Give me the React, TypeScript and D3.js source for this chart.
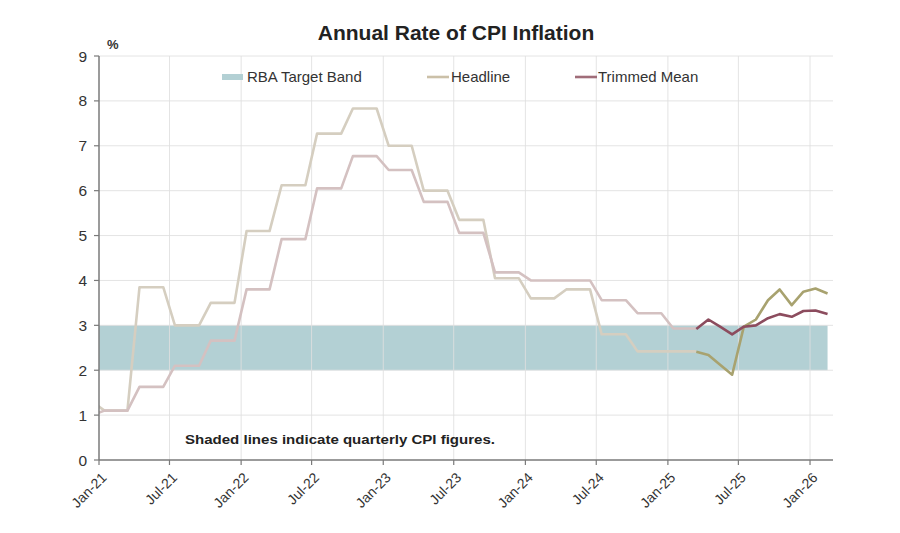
import React from 'react';
import * as d3 from 'd3';

// Quarterly CPI (year-ended %), quarter end labels
const quarters = [
  'Mar-21', 'Jun-21', 'Sep-21', 'Dec-21', 'Mar-22', 'Jun-22', 'Sep-22', 'Dec-22',
  'Mar-23', 'Jun-23', 'Sep-23', 'Dec-23', 'Mar-24', 'Jun-24', 'Sep-24', 'Dec-24', 'Mar-25',
];
const headlineQuarterly = [1.1, 3.85, 3.0, 3.5, 5.1, 6.12, 7.27, 7.83, 7.0, 6.0, 5.35, 4.05, 3.6, 3.8, 2.8, 2.42, 2.42];
const trimmedQuarterly = [1.1, 1.63, 2.1, 2.66, 3.8, 4.92, 6.05, 6.77, 6.46, 5.75, 5.06, 4.18, 4.0, 4.0, 3.56, 3.27, 2.93];
// value of the previous quarter (Dec-20), only the tail shows at the axis
const headlineDec20 = 1.3;
const trimmedDec20 = 1.0;

// Monthly CPI indicator
const months = ['Mar-25', 'Apr-25', 'May-25', 'Jun-25', 'Jul-25', 'Aug-25', 'Sep-25', 'Oct-25', 'Nov-25', 'Dec-25', 'Jan-26', 'Feb-26'];
const headlineMonthly = [2.41, 2.34, 2.12, 1.9, 2.97, 3.13, 3.56, 3.8, 3.45, 3.75, 3.82, 3.71];
const trimmedMonthly = [2.92, 3.13, 2.97, 2.8, 2.97, 3.0, 3.16, 3.25, 3.19, 3.32, 3.33, 3.25];

const targetBand = [2, 3];
const xTickLabels = ['Jan-21', 'Jul-21', 'Jan-22', 'Jul-22', 'Jan-23', 'Jul-23', 'Jan-24', 'Jul-24', 'Jan-25', 'Jul-25', 'Jan-26'];
const yTicks = [0, 1, 2, 3, 4, 5, 6, 7, 8, 9];

const parseMonth = d3.timeParse('%b-%y');
const mid = (label: string) => d3.timeDay.offset(parseMonth(label) as Date, 14);

interface Pt { date: Date; value: number; }

// each quarter holds its value for its three months
const expandQuarterly = (vals: number[], prev: number): Pt[] => {
  const out: Pt[] = [{ date: d3.timeDay.offset(parseMonth('Dec-20') as Date, 14), value: prev }];
  quarters.forEach((q, i) => {
    const end = parseMonth(q) as Date;
    for (let k = 2; k >= 0; k--) {
      out.push({ date: d3.timeDay.offset(d3.timeMonth.offset(end, -k), 14), value: vals[i] });
    }
  });
  return out;
};

const monthlySeries = (vals: number[]): Pt[] => months.map((m, i) => ({ date: mid(m), value: vals[i] }));

const COLORS = {
  band: '#b3d0d4',
  grid: '#e0e0e0',
  axis: '#7a7a7a',
  headlineShade: '#d5cec0',
  trimmedShade: '#d4c1c1',
  headline: '#a8a26f',
  trimmed: '#8c4c5e',
  legendHeadline: '#cbc0a8',
  legendTrimmed: '#a06d79',
};

export default function App() {
  const width = 900;
  const height = 533;
  const left = 99, right = 833, top = 56, bottom = 460;

  const x = d3.scaleTime()
    .domain([parseMonth('Jan-21') as Date, parseMonth('Mar-26') as Date])
    .range([left, right]);
  const y = d3.scaleLinear().domain([0, 9]).range([bottom, top]);

  const line = d3.line<Pt>().x(d => x(d.date)).y(d => y(d.value));

  const hShade = expandQuarterly(headlineQuarterly, headlineDec20);
  const tShade = expandQuarterly(trimmedQuarterly, trimmedDec20);
  const hMonthly = monthlySeries(headlineMonthly);
  const tMonthly = monthlySeries(trimmedMonthly);

  const font = '"Liberation Sans", Arial, sans-serif';
  const bandEnd = x(mid(months[months.length - 1]));

  return (
    <svg width={width} height={height} style={{ position: 'absolute', left: 0, top: 0, background: '#fff' }} fontFamily={font}>
      <defs>
        <clipPath id="plot">
          <rect x={left} y={top - 5} width={right - left} height={bottom - top + 5} />
        </clipPath>
      </defs>

      <text x={456} y={40} textAnchor="middle" fontSize={21} fontWeight="bold" fill="#222">
        Annual Rate of CPI Inflation
      </text>

      {/* target band */}
      <rect x={left} y={y(targetBand[1])} width={bandEnd - left} height={y(targetBand[0]) - y(targetBand[1])} fill={COLORS.band} />

      {/* grid */}
      {yTicks.filter(t => t > 0).map(t => (
        <line key={'gy' + t} x1={left} x2={right} y1={y(t)} y2={y(t)} stroke={COLORS.grid} strokeWidth={1} opacity={0.85} />
      ))}
      {xTickLabels.slice(1).map(l => (
        <line key={'gx' + l} x1={x(parseMonth(l) as Date)} x2={x(parseMonth(l) as Date)} y1={top} y2={bottom} stroke={COLORS.grid} strokeWidth={1} opacity={0.85} />
      ))}

      {/* quarterly shaded lines, then monthly lines */}
      <g clipPath="url(#plot)" fill="none" strokeWidth={2.6} strokeLinejoin="round">
        <path d={line(hShade) || ''} stroke={COLORS.headlineShade} />
        <path d={line(tShade) || ''} stroke={COLORS.trimmedShade} />
        <path d={line(hMonthly) || ''} stroke={COLORS.headline} />
        <path d={line(tMonthly) || ''} stroke={COLORS.trimmed} />
      </g>

      {/* y axis */}
      <line x1={left} x2={left} y1={top} y2={bottom} stroke={COLORS.axis} strokeWidth={1.5} />
      {yTicks.map(t => (
        <g key={'yt' + t}>
          <line x1={left - 5} x2={left} y1={y(t)} y2={y(t)} stroke={COLORS.axis} strokeWidth={1.2} />
          <text x={left - 12} y={y(t)} dy="0.36em" textAnchor="end" fontSize={15.5} fill="#333">{t}</text>
        </g>
      ))}
      <text x={107} y={49} fontSize={13} fontWeight="bold" fill="#333">%</text>

      {/* x axis */}
      <line x1={left} x2={right} y1={bottom} y2={bottom} stroke={COLORS.axis} strokeWidth={1.5} />
      {xTickLabels.map(l => {
        const px = x(parseMonth(l) as Date);
        return (
          <g key={'xt' + l}>
            <line x1={px} x2={px} y1={bottom} y2={bottom + 5} stroke={COLORS.axis} strokeWidth={1.2} />
            <text transform={`translate(${px + 5},${bottom + 15}) rotate(-45)`} textAnchor="end" dy="0.35em" fontSize={14} fill="#333">{l}</text>
          </g>
        );
      })}

      {/* legend */}
      <rect x={222} y={74} width={21} height={6} fill={COLORS.band} />
      <text x={247} y={82} fontSize={15} fill="#333">RBA Target Band</text>
      <line x1={427} x2={449} y1={77} y2={77} stroke={COLORS.legendHeadline} strokeWidth={2.6} />
      <text x={451} y={82} fontSize={15} fill="#333">Headline</text>
      <line x1={575} x2={597} y1={77} y2={77} stroke={COLORS.legendTrimmed} strokeWidth={2.6} />
      <text x={598} y={82} fontSize={15} fill="#333">Trimmed Mean</text>

      <text x={185} y={444} fontSize={13.5} fontWeight="bold" fill="#222" textLength={310} lengthAdjust="spacingAndGlyphs">
        Shaded lines indicate quarterly CPI figures.
      </text>
    </svg>
  );
}
